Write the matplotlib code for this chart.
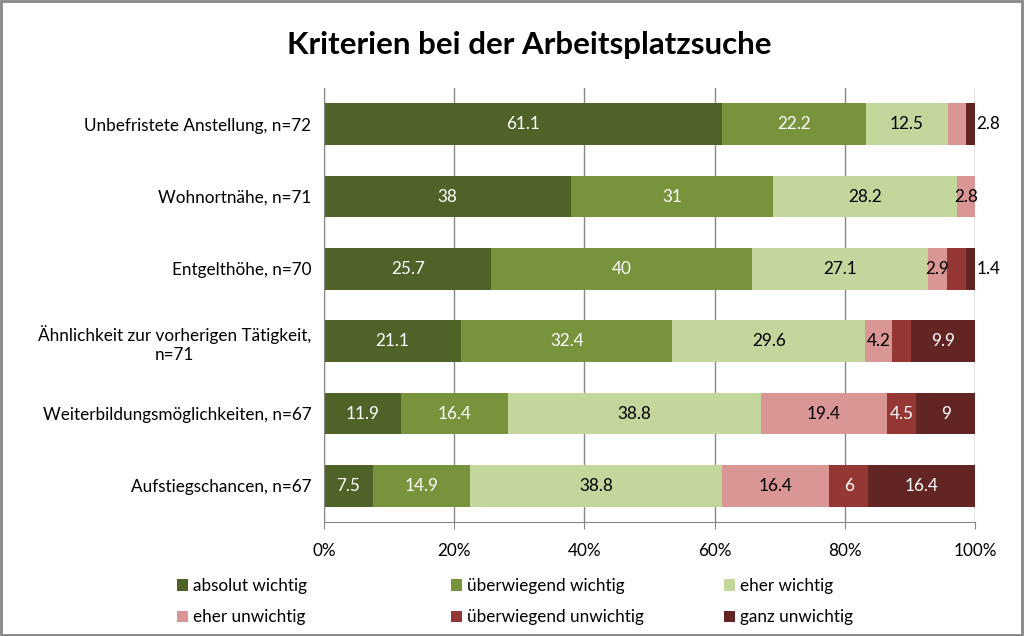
import matplotlib.pyplot as plt
from matplotlib.patches import Rectangle

plt.rcParams['font.family'] = ['Lato', 'DejaVu Sans']

# categories, top to bottom
categories = [
    'Unbefristete Anstellung, n=72',
    'Wohnortnähe, n=71',
    'Entgelthöhe, n=70',
    'Ähnlichkeit zur vorherigen Tätigkeit,\nn=71',
    'Weiterbildungsmöglichkeiten, n=67',
    'Aufstiegschancen, n=67',
]
series_names = ['absolut wichtig', 'überwiegend wichtig', 'eher wichtig',
                'eher unwichtig', 'überwiegend unwichtig', 'ganz unwichtig']

absolut_wichtig = [61.1, 38, 25.7, 21.1, 11.9, 7.5]
ueberwiegend_wichtig = [22.2, 31, 40, 32.4, 16.4, 14.9]
eher_wichtig = [12.5, 28.2, 27.1, 29.6, 38.8, 38.8]
eher_unwichtig = [2.8, 2.8, 2.9, 4.2, 19.4, 16.4]
ueberwiegend_unwichtig = [0, 0, 2.9, 2.8, 4.5, 6]
ganz_unwichtig = [1.4, 0, 1.4, 9.9, 9, 16.4]

values = [absolut_wichtig, ueberwiegend_wichtig, eher_wichtig,
          eher_unwichtig, ueberwiegend_unwichtig, ganz_unwichtig]

colors = ['#4F6228', '#77933C', '#C3D69B', '#D99694', '#953735', '#632523']
text_colors = ['white', 'white', 'black', 'black', 'white', 'white']

# segments whose label is not shown inside the bar (row, series)
hidden = {(0, 4), (0, 5), (1, 4), (1, 5), (2, 4), (3, 4)}
# labels written right of the bar end
outside = {(0, 3), (2, 5)}

fs = 12.3

fig = plt.figure(figsize=(10.24, 6.36), dpi=100)
ax = fig.add_axes([324 / 1024, 1 - 522 / 636, 651 / 1024, 434 / 636])

y = list(range(len(categories)))
left = [0.0] * len(categories)
for s, vals in enumerate(values):
    ax.barh(y, vals, left=left, height=0.58, color=colors[s],
            label=series_names[s], zorder=2)
    for r, v in enumerate(vals):
        if v <= 0:
            continue
        if (r, s) in outside:
            ax.text(100.2, r, f'{v:g}', ha='left', va='center',
                    fontsize=fs, color='black', clip_on=False)
        elif (r, s) not in hidden:
            ax.text(left[r] + v / 2, r, f'{v:g}', ha='center', va='center',
                    fontsize=fs, color=text_colors[s], zorder=3)
        left[r] += v

ax.set_xlim(0, 100)
ax.set_ylim(len(categories) - 0.5, -0.5)
ax.set_yticks(y)
ax.set_yticklabels(categories, fontsize=fs, ha='right', multialignment='center')
ax.set_xticks(range(0, 101, 20))
ax.set_xticklabels([f'{t}%' for t in range(0, 101, 20)], fontsize=fs)
ax.tick_params(axis='y', length=0, pad=9)
ax.tick_params(axis='x', length=5, color='#868686', pad=10)
ax.grid(axis='x', color='#868686', linewidth=1, zorder=0)
for side in ['top', 'right']:
    ax.spines[side].set_visible(False)
ax.spines['left'].set_color('#868686')
ax.spines['bottom'].set_color('#868686')

fig.text(529 / 1024, 1 - 45 / 636, 'Kriterien bei der Arbeitsplatzsuche',
         ha='center', va='center', fontsize=22.5, fontweight='bold')

# legend in three columns
handles, labels = ax.get_legend_handles_labels()
col_x = [177, 451, 724]
for c in range(3):
    leg = fig.legend([handles[c], handles[c + 3]], [labels[c], labels[c + 3]],
                     loc='upper left', bbox_to_anchor=(col_x[c] / 1024, 1 - 578 / 636),
                     frameon=False, fontsize=fs, handlelength=0.65, handleheight=0.65,
                     handletextpad=0.3, labelspacing=0.9, borderpad=0, borderaxespad=0)

fig.patches.append(Rectangle((0.001, 0.002), 0.997, 0.996, transform=fig.transFigure,
                             fill=False, edgecolor='#868686', linewidth=2))

fig.savefig('out.png', dpi=100)
